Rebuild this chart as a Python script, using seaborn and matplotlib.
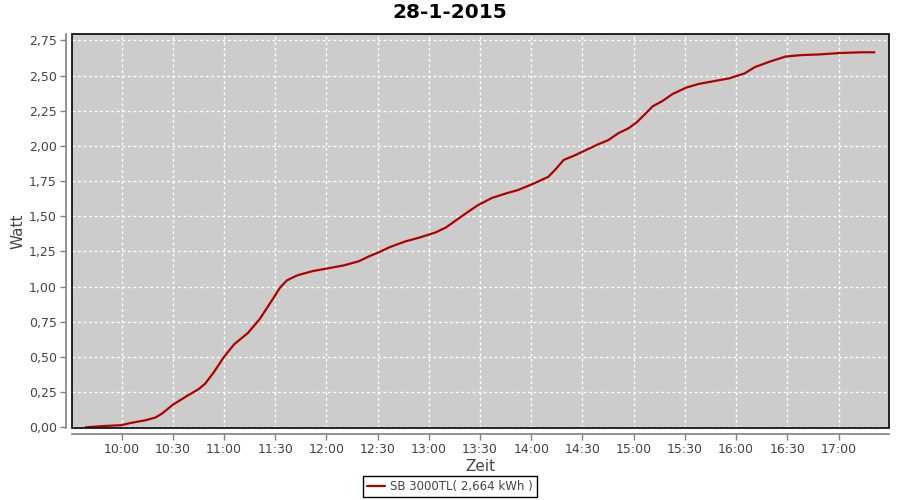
import matplotlib
matplotlib.use("Agg")
import matplotlib.pyplot as plt
import matplotlib.dates as mdates
from matplotlib.ticker import FuncFormatter, MultipleLocator
from matplotlib.patches import Rectangle
import seaborn as sns
import pandas as pd

times = ["09:39", "09:51", "10:00", "10:05", "10:14", "10:20", "10:24", "10:30", "10:38", "10:45",
         "10:49", "10:54", "11:00", "11:06", "11:14", "11:21", "11:28", "11:33", "11:37", "11:43",
         "11:52", "12:01", "12:10", "12:19", "12:25", "12:31", "12:37", "12:46", "12:55", "13:04",
         "13:10", "13:17", "13:24", "13:29", "13:37", "13:46", "13:52", "14:01", "14:10", "14:14",
         "14:19", "14:25", "14:32", "14:39", "14:45", "14:51", "14:57", "15:02", "15:07", "15:11",
         "15:17", "15:23", "15:31", "15:38", "15:47", "15:56", "16:05", "16:11", "16:20", "16:29",
         "16:38", "16:49", "17:01", "17:13", "17:21"]
watt = [0.00, 0.01, 0.015, 0.03, 0.05, 0.07, 0.10, 0.16, 0.22, 0.27,
        0.31, 0.39, 0.50, 0.59, 0.67, 0.77, 0.90, 0.995, 1.045, 1.08,
        1.11, 1.13, 1.15, 1.18, 1.215, 1.245, 1.28, 1.32, 1.35, 1.385,
        1.42, 1.48, 1.54, 1.58, 1.63, 1.665, 1.685, 1.73, 1.78, 1.83,
        1.90, 1.93, 1.97, 2.01, 2.04, 2.09, 2.125, 2.17, 2.23, 2.28,
        2.32, 2.37, 2.415, 2.44, 2.46, 2.48, 2.515, 2.56, 2.60, 2.635,
        2.645, 2.65, 2.66, 2.665, 2.665]
series_label = "SB 3000TL( 2,664 kWh )"
title = "28-1-2015"

df = pd.DataFrame({"Zeit": pd.to_datetime(["2015-01-28 " + t for t in times]),
                   "Watt": watt})

sns.set_theme(style="white")
plt.rcParams["font.family"] = ["DejaVu Sans"]

fig = plt.figure(figsize=(9, 5), dpi=100)
ax = fig.add_axes([0.08, 0.144, 0.908, 0.788])
ax.set_facecolor("#cccccc")

sns.lineplot(data=df, x="Zeit", y="Watt", ax=ax, color="#b00000", linewidth=1.6,
             label=series_label, legend=False)

ax.set_xlim(pd.Timestamp("2015-01-28 09:31"), pd.Timestamp("2015-01-28 17:29:40"))
ax.set_ylim(-0.005, 2.795)
ax.xaxis.set_major_locator(mdates.MinuteLocator(byminute=[0, 30]))
ax.xaxis.set_major_formatter(mdates.DateFormatter("%H:%M"))
ax.yaxis.set_major_locator(MultipleLocator(0.25))
ax.yaxis.set_major_formatter(FuncFormatter(lambda v, p: f"{v:.2f}".replace(".", ",")))

ax.grid(True, color="white", linestyle=(0, (2, 2)), linewidth=1)
ax.set_axisbelow(True)

for s in ["top", "right"]:
    ax.spines[s].set_visible(False)
for s in ["left", "bottom"]:
    ax.spines[s].set_position(("outward", 4))
    ax.spines[s].set_color("#808080")
    ax.spines[s].set_linewidth(1.2)
ax.add_patch(Rectangle((0, 0), 1, 1, transform=ax.transAxes, fill=False,
                       edgecolor="black", linewidth=1.2, zorder=10, clip_on=False))

ax.tick_params(axis="both", which="major", direction="out", length=4, width=1,
               color="#808080", labelsize=9, labelcolor="#444444", left=True, bottom=True, pad=3)

ax.set_xlabel("Zeit", fontsize=11, color="#444444", labelpad=2)
ax.set_ylabel("Watt", fontsize=11, color="#444444", labelpad=2)
fig.suptitle(title, fontsize=14.5, fontweight="bold", color="black", y=0.995)

leg = fig.legend(loc="lower center", bbox_to_anchor=(0.5, -0.006), ncol=1, fontsize=8.5,
                 frameon=True, fancybox=False, framealpha=1, edgecolor="black",
                 handlelength=1.5, borderpad=0.35, handletextpad=0.4)
leg.get_frame().set_linewidth(1)
for t in leg.get_texts():
    t.set_color("#444444")

fig.savefig("out.png", dpi=100)
